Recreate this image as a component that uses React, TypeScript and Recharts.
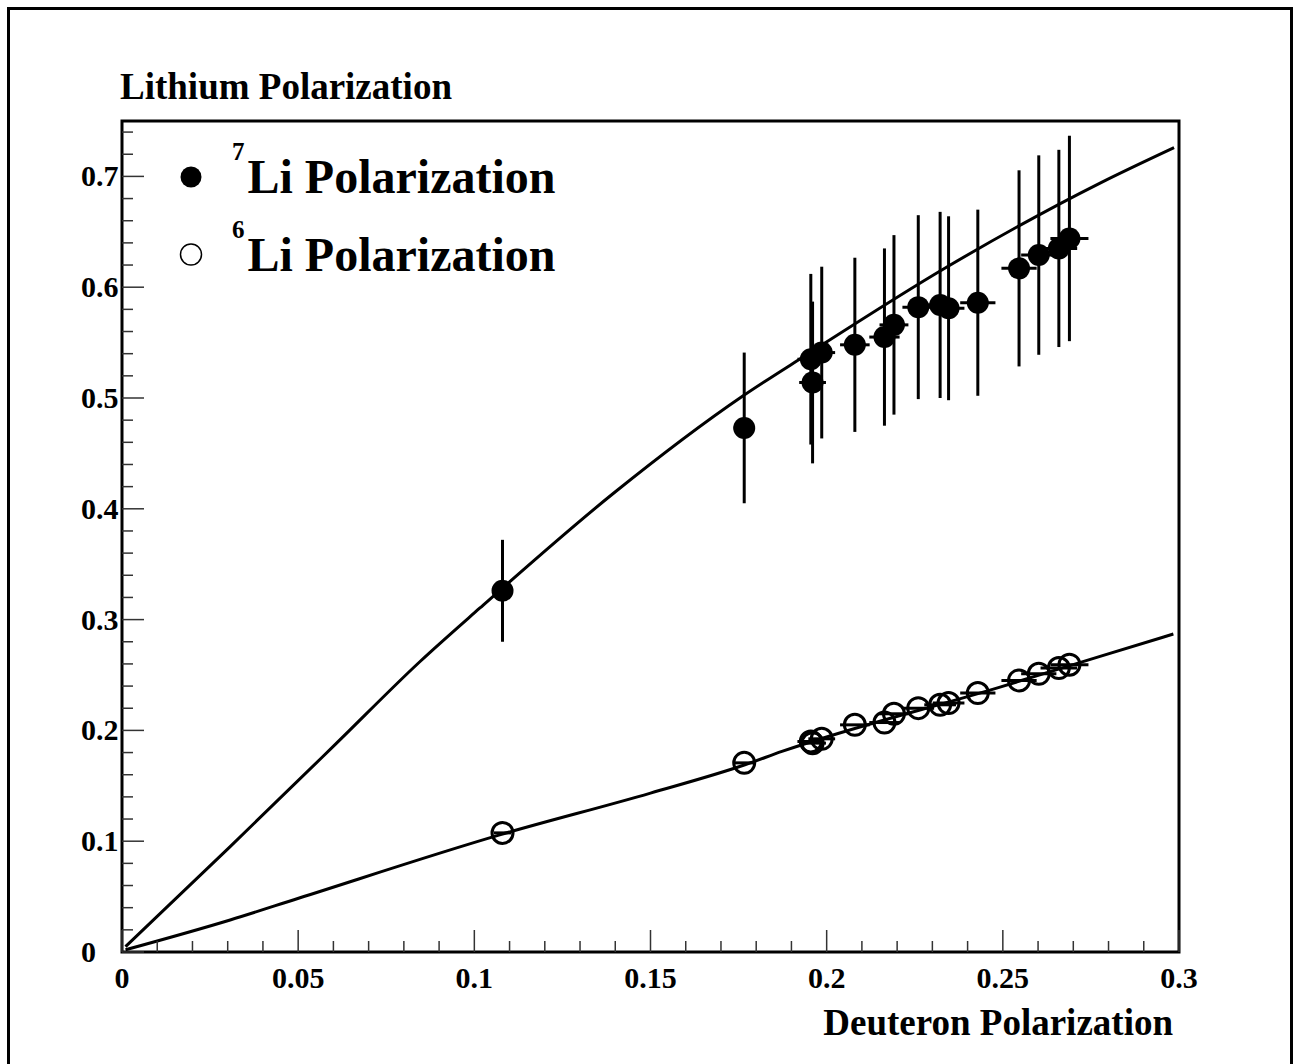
import React from 'react';
import { ComposedChart, Scatter, Line, XAxis, YAxis, ErrorBar, ReferenceArea } from 'recharts';

// measured points, deuteron polarization shared by both lithium isotopes
const deuteronPol = [0.108, 0.1766, 0.1955, 0.196, 0.1986, 0.208, 0.2164, 0.2191, 0.226, 0.2322, 0.2346, 0.2429, 0.2546, 0.2602, 0.2659, 0.2689];
const deuteronErr = [0.0025, 0.003, 0.0038, 0.0038, 0.0038, 0.0042, 0.0043, 0.0041, 0.0045, 0.0045, 0.0045, 0.005, 0.005, 0.005, 0.0052, 0.0054];
const li7Pol = [0.326, 0.473, 0.535, 0.514, 0.541, 0.548, 0.555, 0.566, 0.582, 0.584, 0.581, 0.586, 0.617, 0.629, 0.635, 0.644];
const li7Err = [0.046, 0.068, 0.077, 0.073, 0.0775, 0.0786, 0.08, 0.081, 0.083, 0.084, 0.083, 0.084, 0.0885, 0.09, 0.089, 0.0927];
const li6Pol = [0.1075, 0.1707, 0.19, 0.1885, 0.1924, 0.205, 0.2071, 0.215, 0.2201, 0.2231, 0.2247, 0.2337, 0.2451, 0.2511, 0.2563, 0.2593];

// theory curves
const li7CurveX = [0.001, 0.0307, 0.0609, 0.0846, 0.1016, 0.1395, 0.1763, 0.1943, 0.234, 0.2776, 0.2986];
const li7CurveY = [0.0048, 0.0951, 0.1885, 0.2622, 0.3105, 0.414, 0.502, 0.539, 0.618, 0.694, 0.726];
const li6CurveX = [0.001, 0.0307, 0.0501, 0.1072, 0.15, 0.1768, 0.1873, 0.2492, 0.2776, 0.2984];
const li6CurveY = [0.002, 0.0289, 0.0485, 0.1057, 0.1434, 0.169, 0.181, 0.2391, 0.2668, 0.287];

const xMajorTicks = [0, 0.05, 0.1, 0.15, 0.2, 0.25, 0.3];
const xMajorLabels = ['0', '0.05', '0.1', '0.15', '0.2', '0.25', '0.3'];
const xMinorTicks = [0.01, 0.02, 0.03, 0.04, 0.06, 0.07, 0.08, 0.09, 0.11, 0.12, 0.13, 0.14, 0.16, 0.17, 0.18, 0.19, 0.21, 0.22, 0.23, 0.24, 0.26, 0.27, 0.28, 0.29];
const yMajorTicks = [0, 0.1, 0.2, 0.3, 0.4, 0.5, 0.6, 0.7];
const yMajorLabels = ['0', '0.1', '0.2', '0.3', '0.4', '0.5', '0.6', '0.7'];
const yMinorTicks = [0.02, 0.04, 0.06, 0.08, 0.12, 0.14, 0.16, 0.18, 0.22, 0.24, 0.26, 0.28, 0.32, 0.34, 0.36, 0.38, 0.42, 0.44, 0.46, 0.48, 0.52, 0.54, 0.56, 0.58, 0.62, 0.64, 0.66, 0.68, 0.72, 0.74];

const li7Points = deuteronPol.map((x, i) => ({ x, y: li7Pol[i], ex: deuteronErr[i], ey: li7Err[i] }));
const li6Points = deuteronPol.map((x, i) => ({ x, y: li6Pol[i], ex: deuteronErr[i] }));
const li7Line = li7CurveX.map((x, i) => ({ x, y: li7CurveY[i] }));
const li6Line = li6CurveX.map((x, i) => ({ x, y: li6CurveY[i] }));

const FONT = '"Liberation Serif", "Times New Roman", serif';

const XTick = (props: any) => {
  const { x, y, payload } = props;
  const idx = xMajorTicks.indexOf(payload.value);
  const major = idx >= 0;
  return (
    <g>
      <line x1={x} x2={x} y1={y} y2={y - (major ? 22 : 11)} stroke='#333' strokeWidth={1.5} />
      {major && (
        <text x={x} y={y + 36} textAnchor='middle' fontFamily={FONT} fontWeight='bold' fontSize={30} fill='#000'>
          {xMajorLabels[idx]}
        </text>
      )}
    </g>
  );
};

const YTick = (props: any) => {
  const { x, y, payload } = props;
  const idx = yMajorTicks.indexOf(payload.value);
  const major = idx >= 0;
  return (
    <g>
      <line x1={x} x2={x + (major ? 22 : 11)} y1={y} y2={y} stroke='#333' strokeWidth={1.5} />
      {major && (
        <text x={x - 41} y={y + 10} textAnchor='start' fontFamily={FONT} fontWeight='bold' fontSize={30} fill='#000'>
          {yMajorLabels[idx]}
        </text>
      )}
    </g>
  );
};

const filledDot = (p: any) => <circle cx={p.cx} cy={p.cy} r={11} fill='#000' />;
const openDot = (p: any) => <circle cx={p.cx} cy={p.cy} r={10.5} fill='none' stroke='#000' strokeWidth={3} />;

export default function App() {
  return (
    <div style={{ position: 'absolute', left: 0, top: 0, width: 1296, height: 1064, overflow: 'hidden', background: '#fff' }}>
      <ComposedChart width={1296} height={1064} margin={{ top: 121, right: 117, bottom: 52, left: 62 }}>
        <XAxis
          type='number'
          dataKey='x'
          domain={[0, 0.3]}
          ticks={[...xMajorTicks, ...xMinorTicks].sort((a, b) => a - b)}
          interval={0}
          height={60}
          tickSize={0}
          tickMargin={0}
          axisLine={false}
          tickLine={false}
          tick={<XTick />}
          allowDataOverflow
        />
        <YAxis
          type='number'
          dataKey='y'
          domain={[0, 0.75]}
          ticks={[...yMajorTicks, ...yMinorTicks].sort((a, b) => a - b)}
          interval={0}
          width={60}
          tickSize={0}
          tickMargin={0}
          axisLine={false}
          tickLine={false}
          tick={<YTick />}
          allowDataOverflow
        />
        <Line data={li7Line} dataKey='y' type='monotone' stroke='#000' strokeWidth={3} dot={false} activeDot={false} isAnimationActive={false} />
        <Line data={li6Line} dataKey='y' type='monotone' stroke='#000' strokeWidth={3} dot={false} activeDot={false} isAnimationActive={false} />
        <Scatter data={li7Points} dataKey='y' shape={filledDot} isAnimationActive={false}>
          <ErrorBar dataKey='ey' direction='y' width={0} stroke='#000' strokeWidth={3} isAnimationActive={false} />
          <ErrorBar dataKey='ex' direction='x' width={0} stroke='#000' strokeWidth={3} isAnimationActive={false} />
        </Scatter>
        <Scatter data={li6Points} dataKey='y' shape={openDot} isAnimationActive={false}>
          <ErrorBar dataKey='ex' direction='x' width={0} stroke='#000' strokeWidth={3} isAnimationActive={false} />
        </Scatter>
        <ReferenceArea x1={0} x2={0.3} y1={0} y2={0.75} fill='none' fillOpacity={0} stroke='#000' strokeWidth={3} ifOverflow='visible' />
      </ComposedChart>
      <svg width={1296} height={1064} style={{ position: 'absolute', left: 0, top: 0, pointerEvents: 'none' }}>
        <path d='M 8.5 1064 V 8.5 H 1291.5 V 1064' fill='none' stroke='#000' strokeWidth={3} />
        <text x={120} y={99} fontFamily={FONT} fontWeight='bold' fontSize={37} fill='#000'>
          Lithium Polarization
        </text>
        <text x={1173} y={1035} textAnchor='end' fontFamily={FONT} fontWeight='bold' fontSize={37} fill='#000'>
          Deuteron Polarization
        </text>
        <circle cx={191} cy={177} r={10.5} fill='#000' />
        <text x={232} y={193} fontFamily={FONT} fontWeight='bold' fontSize={48} fill='#000'>
          <tspan fontSize={25} dy={-33}>7</tspan>
          <tspan dy={33} dx={3}>Li Polarization</tspan>
        </text>
        <circle cx={191} cy={254.5} r={10.5} fill='none' stroke='#000' strokeWidth={1.5} />
        <text x={232} y={271} fontFamily={FONT} fontWeight='bold' fontSize={48} fill='#000'>
          <tspan fontSize={25} dy={-33}>6</tspan>
          <tspan dy={33} dx={3}>Li Polarization</tspan>
        </text>
      </svg>
    </div>
  );
}
